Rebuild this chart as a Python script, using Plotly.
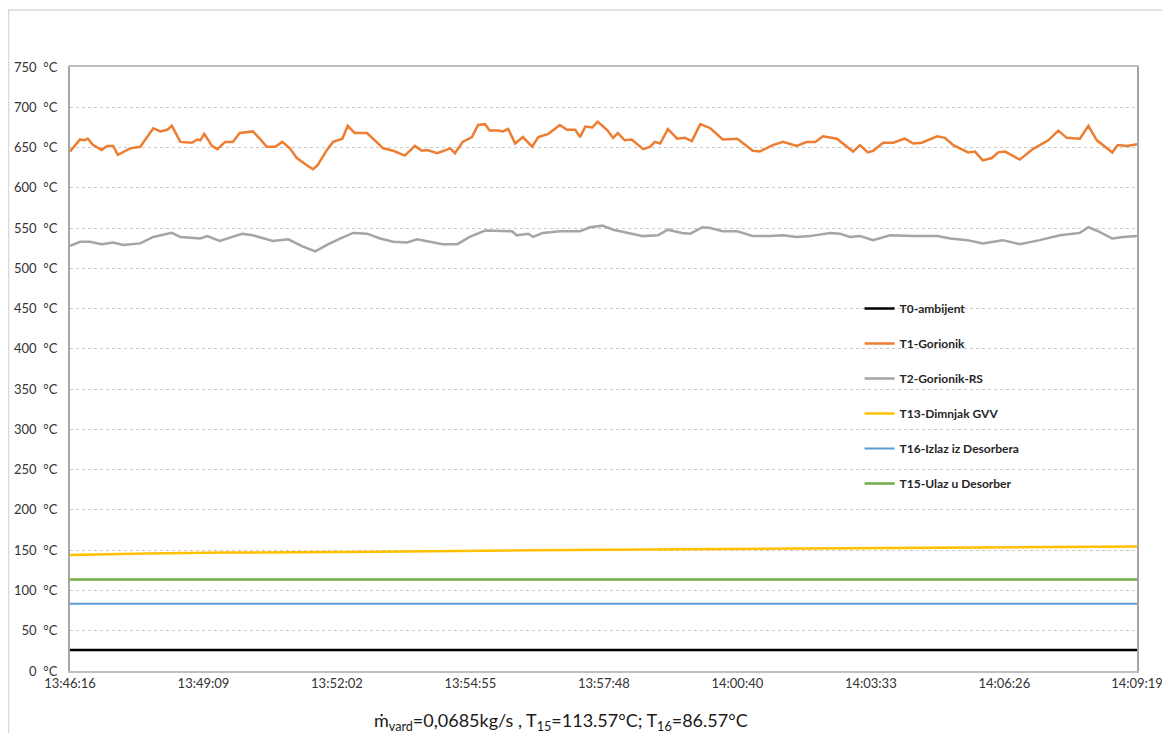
import pandas as pd
import plotly.graph_objects as go

# time axis: seconds elapsed since 13:46:16
START = "2020-01-01 13:46:16"
TICK_LABELS = ["13:46:16", "13:49:09", "13:52:02", "13:54:55", "13:57:48",
               "14:00:40", "14:03:33", "14:06:26", "14:09:19"]

# T1 - Gorionik
t1_sec = [0, 13, 19, 23, 30, 41, 48, 56, 62, 78, 91, 108, 117, 126, 132, 143, 158, 165, 169,
          174, 184, 191, 201, 211, 220, 237, 246, 255, 266, 275, 285, 294, 307, 315, 321, 333,
          341, 353, 360, 369, 385, 395, 406, 419, 434, 447, 456, 463, 476, 493, 499, 509, 521,
          529, 538, 544, 555, 561, 568, 577, 587, 599, 607, 620, 635, 644, 655, 661, 668, 677,
          684, 696, 704, 710, 719, 728, 743, 752, 758, 765, 775, 787, 797, 806, 817, 830, 846,
          865, 885, 894, 911, 924, 942, 955, 966, 976, 994, 1015, 1024, 1034, 1041, 1054,
          1067, 1082, 1093, 1104, 1124, 1134, 1145, 1164, 1173, 1183, 1195, 1203, 1212, 1231,
          1248, 1268, 1281, 1292, 1309, 1320, 1331, 1351, 1358, 1370, 1383]
t1_val = [645, 660, 659, 661, 653, 647, 652, 652, 641, 649, 651, 674, 670, 672, 677, 657, 656, 660,
          659, 667, 652, 648, 657, 657, 668, 670, 661, 651, 651, 657, 649, 637, 628, 623, 628,
          647, 657, 661, 677, 668, 668, 659, 649, 646, 640, 652, 646, 647, 643, 649, 643, 657,
          663, 678, 679, 671, 671, 670, 673, 655, 663, 651, 663, 667, 678, 672, 672, 663, 676,
          675, 682, 672, 662, 668, 659, 660, 648, 651, 657, 655, 673, 661, 662, 658, 679, 674,
          660, 661, 646, 645, 653, 657, 652, 657, 657, 664, 661, 645, 653, 644, 646, 656, 656,
          661, 655, 656, 664, 662, 653, 644, 645, 634, 637, 644, 645, 635, 648, 659, 671, 662,
          661, 677, 659, 644, 653, 652, 654]

# T2 - Gorionik-RS
t2_sec = [0, 13, 26, 41, 56, 69, 91, 108, 132, 143, 169, 178, 194, 223, 237, 263, 283, 302, 318,
          333, 350, 367, 385, 402, 419, 437, 450, 467, 483, 502, 518, 538, 573, 579, 594, 600,
          613, 635, 661, 674, 690, 704, 726, 743, 762, 775, 793, 804, 820, 830, 846, 865, 885,
          907, 924, 942, 959, 985, 998, 1011, 1024, 1041, 1063, 1093, 1124, 1141, 1163, 1183,
          1209, 1231, 1257, 1283, 1309, 1320, 1333, 1351, 1365, 1383]
t2_val = [528, 533, 533, 530, 532, 529, 531, 539, 544, 539, 537, 540, 534, 543, 541, 534, 536, 527,
          521, 529, 537, 544, 543, 537, 533, 532, 536, 533, 530, 530, 539, 547, 546, 541, 543,
          539, 544, 546, 546, 551, 553, 548, 544, 540, 541, 548, 544, 543, 551, 550, 546, 546,
          540, 540, 541, 539, 540, 544, 543, 539, 540, 535, 541, 540, 540, 537, 535, 531, 535,
          530, 535, 541, 544, 551, 546, 537, 539, 540]

# slowly varying channels
low_sec = [0, 100, 200, 400, 600, 800, 1000, 1200, 1383]
t13_val = [144, 146, 147, 148, 150, 151, 152, 153.5, 154.5]
t15_val = [113.5, 113.5, 113.5, 113.5, 113.5, 113.5, 113.5, 113.5, 113.5]
t16_val = [83.5, 83.5, 83.5, 83.5, 83.5, 83.5, 83.5, 83.5, 83.5]
t0_val = [26, 26, 26, 26, 26, 26, 26, 26, 26]

t0 = pd.Timestamp(START)


def to_time(secs):
    return [t0 + pd.Timedelta(seconds=s) for s in secs]


tick_vals = [t0 + pd.Timedelta(seconds=173 * i) for i in range(len(TICK_LABELS))]
tick_vals[-1] = t0 + pd.Timedelta(seconds=1383)

series = [
    ("T0-ambijent", low_sec, t0_val, "#000000", 2.5),
    ("T1-Gorionik", t1_sec, t1_val, "#ED7D31", 2.5),
    ("T2-Gorionik-RS", t2_sec, t2_val, "#A5A5A5", 2.5),
    ("T13-Dimnjak GVV", low_sec, t13_val, "#FFC000", 2.5),
    ("T16-Izlaz iz Desorbera", low_sec, t16_val, "#5B9BD5", 2),
    ("T15-Ulaz u Desorber", low_sec, t15_val, "#70AD47", 2.5),
]

fig = go.Figure()
for name, secs, vals, color, width in series:
    fig.add_trace(go.Scatter(
        x=to_time(secs), y=vals, name=name, mode="lines",
        line=dict(color=color, width=width), legendgroup=name,
    ))

fig.update_layout(
    width=1170, height=733,
    margin=dict(l=62, r=41, t=59, b=70),
    paper_bgcolor="white", plot_bgcolor="white",
    font=dict(family="Lato, Open Sans, sans-serif", size=13, color="#333333"),
    legend=dict(
        x=0.740, y=0.624, xanchor="left", yanchor="top",
        bgcolor="rgba(0,0,0,0)", tracegroupgap=16,
        font=dict(size=12, color="#262626", family="Lato, sans-serif", weight="bold"),
        itemwidth=30,
    ),
    showlegend=True,
)

fig.update_xaxes(
    type="date", range=[t0, t0 + pd.Timedelta(seconds=1383)],
    tickvals=tick_vals, ticktext=TICK_LABELS, showgrid=False,
    showline=True, linecolor="#bfbfbf", linewidth=1.5, mirror=True,
    ticks="", tickfont=dict(size=13, color="#333333"), automargin=False,
)
fig.update_yaxes(
    range=[0, 750], dtick=50, ticksuffix="\u00a0 °C",
    showgrid=True, gridcolor="#c9c9c9", griddash="dot", gridwidth=1,
    showline=True, linecolor="#a6a6a6", linewidth=2, mirror=True,
    zeroline=False, ticks="", ticklabelstandoff=8, automargin=False,
    tickfont=dict(size=13, color="#333333"),
)

# outer chart border
fig.add_shape(type="rect", xref="paper", yref="paper",
              x0=-0.0576, x1=1.2, y0=-0.2, y1=1.0944,
              line=dict(color="#d9d9d9", width=1.5))

fig.add_annotation(
    xref="paper", yref="paper", x=0.46, y=-0.083, xanchor="center", yanchor="middle",
    text="ṁ<sub>vard</sub>=0,0685kg/s , T<sub>15</sub>=113.57°C; T<sub>16</sub>=86.57°C",
    showarrow=False, font=dict(size=18, color="#1a1a1a", family="Lato, sans-serif"),
)

fig.write_html("out.html")
